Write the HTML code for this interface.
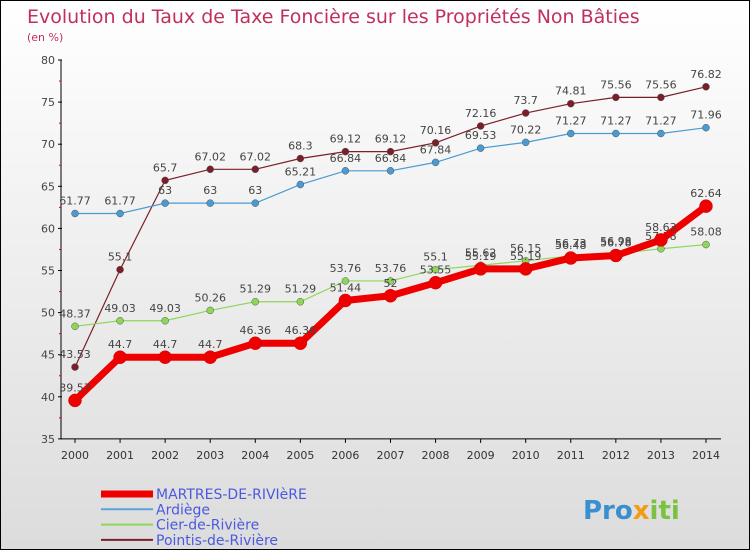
<!DOCTYPE html>
<html><head><meta charset="utf-8"><style>
body{margin:0}
#c{width:748px;height:548px;border:1px solid #000;background:linear-gradient(#fff,#dcdcdc);position:relative;font-family:"DejaVu Sans","Liberation Sans",sans-serif;overflow:hidden}
svg text{font-family:"DejaVu Sans","Liberation Sans",sans-serif}
</style></head><body>
<div id="c">
<svg id="s" width="748" height="548">
<text x="26" y="22" font-size="19" fill="#c0305a">Evolution du Taux de Taxe Foncière sur les Propriétés Non Bâties</text>
<text x="26" y="40" font-size="11" fill="#c0305a">(en %)</text>
<text x="582" y="518" font-size="26" font-weight="bold" fill="#3a8fd0">Pro<tspan fill="#f39c12">x</tspan><tspan fill="#7cc242">iti</tspan></text>
</svg>
</div>
<script>
const years=[2000,2001,2002,2003,2004,2005,2006,2007,2008,2009,2010,2011,2012,2013,2014];
const yTicks=[35,40,45,50,55,60,65,70,75,80];
const martres=[39.57,44.7,44.7,44.7,46.36,46.36,51.44,52,53.55,55.19,55.19,56.48,56.78,58.63,62.64];
const ardiege=[61.77,61.77,63,63,63,65.21,66.84,66.84,67.84,69.53,70.22,71.27,71.27,71.27,71.96];
const cier=[48.37,49.03,49.03,50.26,51.29,51.29,53.76,53.76,55.1,55.62,56.15,56.73,56.98,57.58,58.08];
const pointis=[43.53,55.1,65.7,67.02,67.02,68.3,69.12,69.12,70.16,72.16,73.7,74.81,75.56,75.56,76.82];
const seriesNames=["MARTRES-DE-RIVIèRE","Ardiège","Cier-de-Rivière","Pointis-de-Rivière"];
const NS="http://www.w3.org/2000/svg",s=document.getElementById('s');
const X=i=>74+i*45.07, Y=v=>59+(80-v)*8.42;
function el(t,a,p){const e=document.createElementNS(NS,t);for(const k in a)e.setAttribute(k,a[k]);(p||s).appendChild(e);return e;}
let ax=el('line',{x1:60,y1:Y(80),x2:60,y2:Y(35),stroke:'#000'});


let bx=el('line',{x1:60,y1:Y(35),x2:720,y2:Y(35),stroke:'#000'});


yTicks.forEach(v=>{el('line',{x1:57,y1:Y(v),x2:61,y2:Y(v),stroke:'#000'});
 if(v<80)el('line',{x1:58,y1:Y(v+2.5),x2:60,y2:Y(v+2.5),stroke:'#d00'});
 const t=el('text',{x:54,y:Y(v)+4,'text-anchor':'end','font-size':11,fill:'#444'});t.textContent=v;
 
 });
years.forEach((y,i)=>{el('line',{x1:X(i),y1:Y(35),x2:X(i),y2:Y(35)+4,stroke:'#000'});
 const t=el('text',{x:X(i),y:Y(35)+20,'text-anchor':'middle','font-size':11,fill:'#333'});t.textContent=y;
 
 });
function series(d,col,w,r,name){
 const g=el('g',{});
 
 
 el('polyline',{points:d.map((v,i)=>X(i)+','+Y(v)).join(' '),fill:'none',stroke:col,'stroke-width':w},g);
 d.forEach((v,i)=>{const c=el('circle',{cx:X(i),cy:Y(v),r:r,fill:col,stroke:w>3?'#c00':'#555','stroke-width':0.5},g);
  
  
  const t=el('text',{x:X(i),y:Y(v)-9,'text-anchor':'middle','font-size':11,fill:'#444'},g);t.textContent=v;});
}
series(pointis,'#7a1f2a',1.2,3.5,'series-pointis');
series(ardiege,'#4a9ad4',1.2,3.5,'series-ardiege');
series(cier,'#8ed65a',1.2,3.5,'series-cier');
series(martres,'#ee0000',7,6.5,'series-martres');
const cols=['#ee0000','#5ba3d9','#8ed65a','#7a1f2a'],ws=[7,2,2,2];
seriesNames.forEach((n,i)=>{const y=493+i*15.3;
 const g=el('g',{});
 
 
 el('line',{x1:100,y1:y,x2:152,y2:y,stroke:cols[i],'stroke-width':ws[i]},g);
 const t=el('text',{x:155,y:y+5,'font-size':14,fill:'#4a5adf'},g);t.textContent=n;});
</script>
</body></html>
